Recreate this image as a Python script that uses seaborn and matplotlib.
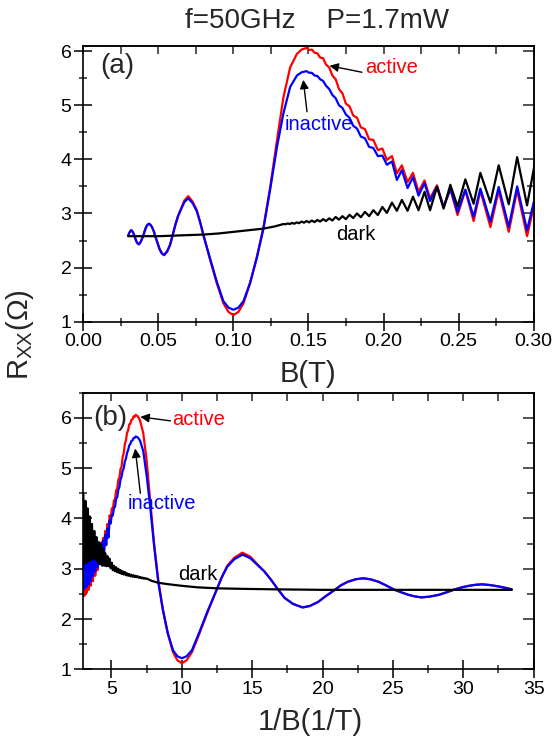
import numpy as np
import pandas as pd
import matplotlib
matplotlib.use("Agg")
import matplotlib.pyplot as plt
import seaborn as sns
from matplotlib.ticker import MultipleLocator, FormatStrFormatter, NullFormatter

# ---------------- data ----------------
# magnetic field B (T) for the irradiated curves (active / inactive)
B_irr = [0.0299, 0.0303, 0.0308, 0.03135, 0.0319, 0.03241, 0.0329, 0.03344, 0.0340, 0.03472,
         0.0354, 0.03623, 0.0370, 0.03766, 0.0383, 0.03906, 0.0398, 0.04082, 0.0417, 0.04274,
         0.0437, 0.04474, 0.0459, 0.04695, 0.0479, 0.04938, 0.0508, 0.05236, 0.0538, 0.05587,
         0.0578, 0.05952, 0.0612, 0.06309, 0.0645,
         0.0673, 0.0699, 0.0728, 0.0756, 0.0780, 0.0800, 0.0845, 0.0889, 0.0933, 0.0967,
         0.1000, 0.1033, 0.1067, 0.1111, 0.1156, 0.1200, 0.1245, 0.1290, 0.1333, 0.1378,
         0.1423, 0.1455,
         0.1487, 0.1504, 0.1522, 0.1540, 0.1559, 0.1578, 0.1597, 0.1617, 0.1638, 0.1659,
         0.1681, 0.1703, 0.1726, 0.1749, 0.1773, 0.1798, 0.1823, 0.1849, 0.1876, 0.1904,
         0.1932, 0.1962, 0.1992, 0.2022, 0.2056, 0.2089, 0.2122, 0.2160, 0.2196, 0.2233,
         0.2273, 0.2310, 0.2356, 0.2400, 0.2445, 0.2493, 0.2545, 0.2600, 0.2645, 0.2712,
         0.2767, 0.2834, 0.2890, 0.2956, 0.3026, 0.3098, 0.3175, 0.3252, 0.3333]

R_active = [2.59, 2.62, 2.65, 2.675, 2.69, 2.68, 2.66, 2.63, 2.59, 2.53,
            2.48, 2.445, 2.43, 2.45, 2.48, 2.53, 2.58, 2.67, 2.74, 2.79,
            2.81, 2.79, 2.74, 2.67, 2.58, 2.46, 2.34, 2.26, 2.23, 2.30,
            2.42, 2.60, 2.78, 2.95, 3.05,
            3.24, 3.32, 3.22, 3.06, 2.82, 2.60, 2.14, 1.71, 1.34, 1.18,
            1.12, 1.18, 1.34, 1.71, 2.20, 2.75, 3.49, 4.35, 5.15, 5.70,
            5.95, 6.03,
            6.06, 6.02, 6.03, 5.97, 5.96, 5.88, 5.87, 5.75, 5.70, 5.55,
            5.48, 5.30, 5.22, 5.03, 4.98, 4.81, 4.77, 4.59, 4.56, 4.37,
            4.36, 4.17, 4.20, 3.99, 4.06, 3.74, 3.89, 3.58, 3.75, 3.40,
            3.61, 3.28, 3.52, 3.12, 3.45, 2.97, 3.43, 2.86, 3.42, 2.75,
            3.42, 2.66, 3.43, 2.58, 3.44, 2.52, 3.45, 2.46, 3.45]

R_inactive = [2.59, 2.62, 2.65, 2.675, 2.69, 2.68, 2.66, 2.63, 2.59, 2.53,
              2.48, 2.445, 2.43, 2.45, 2.48, 2.53, 2.58, 2.67, 2.74, 2.79,
              2.81, 2.79, 2.74, 2.67, 2.58, 2.46, 2.34, 2.26, 2.23, 2.30,
              2.42, 2.60, 2.78, 2.95, 3.04,
              3.21, 3.28, 3.19, 3.04, 2.82, 2.60, 2.16, 1.74, 1.38, 1.26,
              1.22, 1.26, 1.38, 1.72, 2.18, 2.72, 3.45, 4.23, 4.85, 5.34,
              5.55, 5.61,
              5.63, 5.60, 5.60, 5.55, 5.54, 5.48, 5.45, 5.36, 5.30, 5.19,
              5.13, 5.00, 4.95, 4.83, 4.77, 4.62, 4.57, 4.42, 4.39, 4.23,
              4.21, 4.06, 4.07, 3.90, 3.96, 3.62, 3.80, 3.47, 3.67, 3.33,
              3.56, 3.23, 3.50, 3.12, 3.46, 3.03, 3.44, 2.94, 3.46, 2.85,
              3.49, 2.75, 3.50, 2.69, 3.50, 2.64, 3.50, 2.60, 3.50]

# dark curve
B_dark = [0.0299, 0.0400, 0.0500, 0.0600, 0.0700, 0.0800, 0.0900, 0.1000, 0.1100, 0.1200,
          0.1275, 0.1333, 0.1347, 0.1361, 0.1376, 0.1391, 0.1406, 0.1421, 0.1437, 0.1453,
          0.1470, 0.1487, 0.1504, 0.1522, 0.1540, 0.1559, 0.1578, 0.1597, 0.1617, 0.1638,
          0.1659, 0.1681, 0.1703, 0.1726, 0.1749, 0.1773, 0.1798, 0.1823, 0.1849, 0.1876,
          0.1904, 0.1932, 0.1962, 0.1992, 0.2022, 0.2056, 0.2089, 0.2122, 0.2160, 0.2196,
          0.2233, 0.2273, 0.2310, 0.2356, 0.2400, 0.2445, 0.2493, 0.2545, 0.2600, 0.2645,
          0.2712, 0.2767, 0.2834, 0.2890, 0.2956, 0.3026, 0.3098, 0.3175, 0.3252, 0.3333]
R_dark = [2.58, 2.58, 2.58, 2.59, 2.60, 2.61, 2.63, 2.66, 2.69, 2.72,
          2.76, 2.805, 2.80, 2.815, 2.805, 2.825, 2.81, 2.835, 2.82, 2.85,
          2.83, 2.86, 2.835, 2.87, 2.84, 2.88, 2.85, 2.895, 2.86, 2.91,
          2.87, 2.935, 2.885, 2.95, 2.895, 2.975, 2.915, 3.00, 2.93, 3.03,
          2.95, 3.06, 2.97, 3.12, 3.01, 3.20, 3.05, 3.25, 3.05, 3.31,
          3.06, 3.40, 3.06, 3.49, 3.09, 3.53, 3.13, 3.63, 3.18, 3.75,
          3.20, 3.89, 3.17, 4.04, 3.15, 4.20, 3.12, 4.35, 3.10, 4.50]

curve_names = ["active", "inactive", "dark"]
curve_colors = {"active": "#ff0000", "inactive": "#0000ff", "dark": "#000000"}

title_text = "f=50GHz    P=1.7mW"
xlabel_a = "B(T)"
xlabel_b = "1/B(1/T)"
ylabel = "R$_{\\mathrm{XX}}$(Ω)"

# ---------------- build table ----------------
df = pd.concat([
    pd.DataFrame({"B": B_irr, "R": R_active, "curve": "active"}),
    pd.DataFrame({"B": B_irr, "R": R_inactive, "curve": "inactive"}),
    pd.DataFrame({"B": B_dark, "R": R_dark, "curve": "dark"}),
], ignore_index=True)
df["invB"] = 1.0 / df["B"]

# ---------------- style ----------------
sns.set_style("ticks")
plt.rcParams["font.family"] = ["Liberation Sans", "DejaVu Sans"]
plt.rcParams["mathtext.fontset"] = "custom"
plt.rcParams["mathtext.rm"] = "Liberation Sans"
plt.rcParams["mathtext.it"] = "Liberation Sans:italic"

fig = plt.figure(figsize=(5.57, 7.46), dpi=100)
ax1 = fig.add_axes([0.1496, 0.5688, 0.8085, 0.3699])
ax2 = fig.add_axes([0.1496, 0.1028, 0.8085, 0.3708])

for ax, xcol in ((ax1, "B"), (ax2, "invB")):
    sns.lineplot(data=df, x=xcol, y="R", hue="curve", hue_order=curve_names,
                 palette=curve_colors, sort=False, estimator=None, legend=False,
                 linewidth=1.6, ax=ax)
    ax.set_xlabel("")
    ax.set_ylabel("")

ax1.set_xlim(0, 0.30)
ax1.set_ylim(1.0, 6.1)
ax2.set_xlim(3, 35)
ax2.set_ylim(1.0, 6.5)


def style(ax, xmaj, xmin, ymaj, ymin, xfmt=None):
    ax.xaxis.set_major_locator(MultipleLocator(xmaj))
    ax.xaxis.set_minor_locator(MultipleLocator(xmin))
    ax.yaxis.set_major_locator(MultipleLocator(ymaj))
    ax.yaxis.set_minor_locator(MultipleLocator(ymin))
    if xfmt:
        ax.xaxis.set_major_formatter(FormatStrFormatter(xfmt))
    ax.tick_params(which="major", direction="inout", length=13, width=1.1,
                   labelsize=14, pad=2, top=False, right=False, colors="black")
    ax.tick_params(which="minor", direction="inout", length=6, width=1.1,
                   top=False, right=False)
    for s in ax.spines.values():
        s.set_visible(True)
        s.set_linewidth(1.2)
        s.set_color("black")
    sx = ax.secondary_xaxis("top")
    sx.xaxis.set_major_locator(MultipleLocator(xmaj))
    sx.xaxis.set_minor_locator(MultipleLocator(xmin))
    sx.xaxis.set_major_formatter(NullFormatter())
    sx.tick_params(which="major", direction="in", length=6, width=1.1)
    sx.tick_params(which="minor", direction="in", length=6, width=1.1)
    sx.spines["top"].set_linewidth(1.2)
    sy = ax.secondary_yaxis("right")
    sy.yaxis.set_major_locator(MultipleLocator(ymaj))
    sy.yaxis.set_minor_locator(MultipleLocator(ymin))
    sy.yaxis.set_major_formatter(NullFormatter())
    sy.tick_params(which="major", direction="in", length=8, width=1.1)
    sy.tick_params(which="minor", direction="in", length=5, width=1.1)
    sy.spines["right"].set_linewidth(1.2)


style(ax1, 0.05, 0.025, 1, 0.5, "%.2f")
style(ax2, 5, 2.5, 1, 0.5)

arrow = dict(arrowstyle="-|>", color="black", lw=1.0, mutation_scale=13,
             shrinkA=0, shrinkB=0)

# panel (a) annotations
ax1.text(0.0228, 5.72, "(a)", fontsize=20, ha="center", va="center")
ax1.text(0.2053, 5.70, "active", color="#ff0000", fontsize=14.5, ha="center", va="center")
ax1.annotate("", xy=(0.1640, 5.73), xytext=(0.1856, 5.61), arrowprops=arrow)
ax1.text(0.1571, 4.65, "inactive", color="#0000ff", fontsize=14.5, ha="center", va="center")
ax1.annotate("", xy=(0.1465, 5.47), xytext=(0.1490, 4.88), arrowprops=arrow)
ax1.text(0.1818, 2.62, "dark", color="black", fontsize=14.5, ha="center", va="center")

# panel (b) annotations
ax2.text(4.94, 6.0, "(b)", fontsize=20, ha="center", va="center")
ax2.text(11.21, 5.96, "active", color="#ff0000", fontsize=14.5, ha="center", va="center")
ax2.annotate("", xy=(7.05, 6.02), xytext=(9.19, 5.94), arrowprops=arrow)
ax2.text(8.6, 4.29, "inactive", color="#0000ff", fontsize=14.5, ha="center", va="center")
ax2.annotate("", xy=(6.69, 5.39), xytext=(7.05, 4.50), arrowprops=arrow)
ax2.text(11.1, 2.89, "dark", color="black", fontsize=14.5, ha="center", va="center")

# titles / labels
fig.text(0.569, 0.972, title_text, fontsize=20, ha="center", va="center")
fig.text(0.553, 0.499, xlabel_a, fontsize=21, ha="center", va="center")
fig.text(0.557, 0.032, xlabel_b, fontsize=21, ha="center", va="center")
fig.text(0.036, 0.551, ylabel, fontsize=21, rotation=90, ha="center", va="center")

fig.savefig("out.png", dpi=100)
